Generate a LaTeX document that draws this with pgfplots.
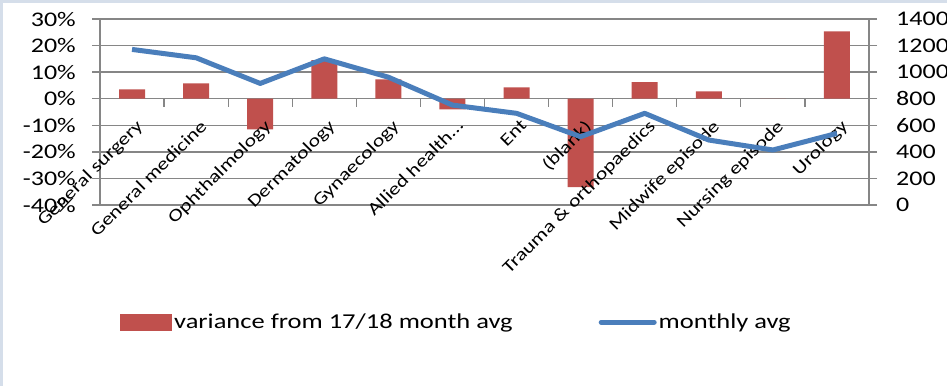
\documentclass[border=0pt]{standalone}
\usepackage{fontspec}
\setmainfont{Carlito}[FakeStretch=1.25]
\usepackage{pgfplots}
\pgfplotsset{compat=1.18}
\definecolor{barred}{HTML}{C0504D}
\definecolor{lineblue}{HTML}{4A7EBB}
\definecolor{gridgray}{HTML}{868686}
\definecolor{framecol}{HTML}{D5DEEA}
\pgfplotsset{
  linelegend/.style={legend image code/.code={\draw[lineblue, line width=5bp, line cap=round] (2bp,0bp) -- (55bp,0bp);}},
  barlegend/.style={legend image code/.code={\fill[barred] (0bp,-8.5bp) rectangle (52bp,8.5bp);}},
}
\begin{document}
\begin{tikzpicture}
\clip (0,0) rectangle (947bp,386bp);
\path[use as bounding box] (0,0) rectangle (947bp,386bp);
\fill[framecol] (0,0) rectangle (947bp,386bp);
\fill[white] (3bp,0) rectangle (947bp,383bp);
\begin{axis}[
  at={(100bp,181bp)}, anchor=south west,
  width=769bp, height=186bp, scale only axis,
  xmin=-0.5, xmax=11.5, ymin=-40, ymax=30,
  ytick={-40,-30,...,30},
  yticklabel={\pgfmathprintnumber{\tick}\%},
  /pgf/number format/assume math mode=true,
  axis x line*=middle, axis y line*=left,
  axis line style={draw=gridgray, line width=1.3bp},
  ymajorgrids, grid style={draw=gridgray, line width=1.3bp},
  tick style={draw=gridgray, line width=1.3bp},
  major tick length=8bp, tick align=outside,
  xtick={0.5,1.5,...,10.5}, xticklabels={},
  y tick label style={font=\fontsize{20.8bp}{24bp}\selectfont, anchor=east, inner sep=2bp, xshift=-14bp},
  legend style={at={(axis description cs:0.026,-0.63)}, anchor=west, draw=none, fill=none,
    legend columns=2, font=\fontsize{21.2bp}{24bp}\selectfont, inner sep=0pt,
    /tikz/every even column/.append style={column sep=84bp}},
  clip=false,
]
\addplot[ybar, bar width=26bp, fill=barred, draw=none, barlegend] coordinates {
(0,3.5) (1,5.8) (2,-11.5) (3,14.5) (4,7.3) (5,-4.0) (6,4.3) (7,-33.3) (8,6.2) (9,2.8) (10,0) (11,25.3)};
\addlegendentry{variance from 17/18 month avg}
\addlegendimage{linelegend}
\addlegendentry{monthly avg}
\end{axis}
\begin{axis}[
  at={(100bp,181bp)}, anchor=south west,
  width=769bp, height=186bp, scale only axis,
  xmin=-0.5, xmax=11.5, ymin=0, ymax=1400,
  ytick={0,200,...,1400},
  /pgf/number format/assume math mode=true,
  /pgf/number format/1000 sep={},
  axis x line*=bottom, axis y line*=right,
  axis line style={draw=gridgray, line width=1.3bp},
  tick style={draw=gridgray, line width=1.3bp},
  xtick style={draw=none},
  major tick length=8bp, tick align=outside,
  xtick={0,1,...,11},
  xticklabels={General surgery, General medicine, Ophthalmology, Dermatology, Gynaecology, Allied health…, Ent, (blank), Trauma \& orthopaedics, Midwife episode, Nursing episode, Urology},
  x tick label style={yshift=96bp, xshift=3bp, rotate=45, anchor=north east, inner sep=1bp, font=\fontsize{17.5bp}{20bp}\selectfont},
  y tick label style={font=\fontsize{20.8bp}{24bp}\selectfont, anchor=west, inner sep=2bp, xshift=17bp},
  clip=false,
]
\addplot[lineblue, line width=5bp, line join=round, mark=none] coordinates {
(0,1171) (1,1108) (2,915) (3,1100) (4,962) (5,752) (6,690) (7,514) (8,690) (9,489) (10,414) (11,539)};
\end{axis}
\end{tikzpicture}
\end{document}
